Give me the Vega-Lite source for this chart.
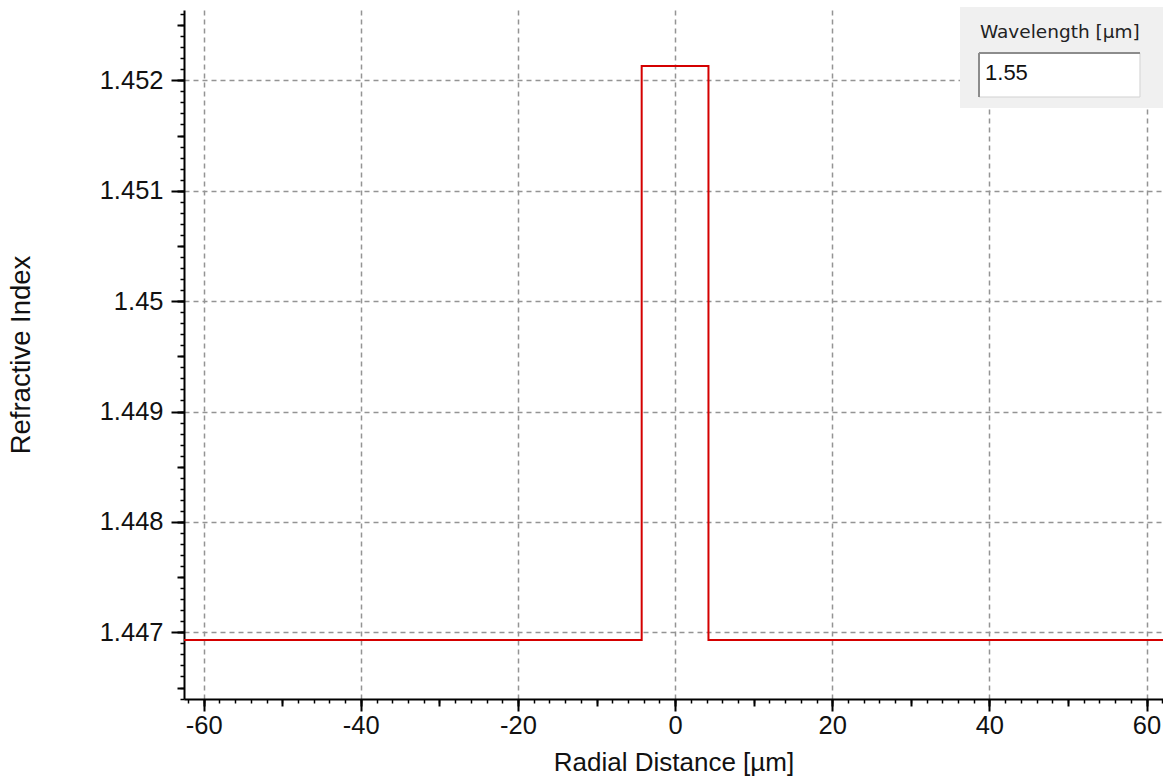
{
  "$schema": "https://vega.github.io/schema/vega-lite/v6.json",
  "width": 979,
  "height": 689,
  "autosize": "none",
  "padding": {"left": 184, "top": 10, "right": 0, "bottom": 81},
  "background": "white",
  "config": {
    "view": {"stroke": null},
    "axis": {
      "labelFont": "Liberation Sans",
      "titleFont": "Liberation Sans",
      "labelColor": "#111111",
      "titleColor": "#111111",
      "tickColor": "#000000",
      "domainColor": "#000000",
      "titleFontWeight": "normal"
    }
  },
  "datasets": {
    "profile": [
      {"i": 0, "r": -62.5, "n": 1.44693},
      {"i": 1, "r": -4.25, "n": 1.44693},
      {"i": 2, "r": -4.25, "n": 1.45213},
      {"i": 3, "r": 4.25, "n": 1.45213},
      {"i": 4, "r": 4.25, "n": 1.44693},
      {"i": 5, "r": 62.1, "n": 1.44693}
    ],
    "panel": [
      {"label": "Wavelength [µm]", "wavelength": "1.55"}
    ]
  },
  "layer": [
    {
      "data": {"name": "profile"},
      "mark": {"type": "line", "opacity": 0},
      "encoding": {
        "x": {
          "field": "r", "type": "quantitative",
          "scale": {"domain": [-62.5, 62.1], "nice": false, "zero": false},
          "axis": {
            "orient": "bottom", "title": null, "labels": false, "domain": false, "grid": false,
            "tickSize": 4, "tickWidth": 1.5,
            "values": [-62,-60,-58,-56,-54,-52,-50,-48,-46,-44,-42,-40,-38,-36,-34,-32,-30,-28,-26,-24,-22,-20,-18,-16,-14,-12,-10,-8,-6,-4,-2,0,2,4,6,8,10,12,14,16,18,20,22,24,26,28,30,32,34,36,38,40,42,44,46,48,50,52,54,56,58,60,62]
          }
        },
        "y": {
          "field": "n", "type": "quantitative",
          "scale": {"domain": [1.446396, 1.452637], "nice": false, "zero": false},
          "axis": {
            "orient": "left", "title": null, "labels": false, "domain": false, "grid": false,
            "tickSize": 4, "tickWidth": 1.5,
            "values": [1.4464,1.4465,1.4466,1.4467,1.4468,1.4469,1.447,1.4471,1.4472,1.4473,1.4474,1.4475,1.4476,1.4477,1.4478,1.4479,1.448,1.4481,1.4482,1.4483,1.4484,1.4485,1.4486,1.4487,1.4488,1.4489,1.449,1.4491,1.4492,1.4493,1.4494,1.4495,1.4496,1.4497,1.4498,1.4499,1.45,1.4501,1.4502,1.4503,1.4504,1.4505,1.4506,1.4507,1.4508,1.4509,1.451,1.4511,1.4512,1.4513,1.4514,1.4515,1.4516,1.4517,1.4518,1.4519,1.452,1.4521,1.4522,1.4523,1.4524,1.4525,1.4526]
          }
        }
      }
    },
    {
      "data": {"name": "profile"},
      "mark": {"type": "line", "opacity": 0},
      "encoding": {
        "x": {
          "field": "r", "type": "quantitative",
          "scale": {"domain": [-62.5, 62.1], "nice": false, "zero": false},
          "axis": {
            "orient": "bottom", "title": null, "labels": false, "domain": false, "grid": false,
            "tickSize": 7, "tickWidth": 2,
            "values": [-60,-50,-40,-30,-20,-10,0,10,20,30,40,50,60]
          }
        },
        "y": {
          "field": "n", "type": "quantitative",
          "scale": {"domain": [1.446396, 1.452637], "nice": false, "zero": false},
          "axis": {
            "orient": "left", "title": null, "labels": false, "domain": false, "grid": false,
            "tickSize": 7, "tickWidth": 2,
            "values": [1.4465,1.447,1.4475,1.448,1.4485,1.449,1.4495,1.45,1.4505,1.451,1.4515,1.452,1.4525]
          }
        }
      }
    },
    {
      "data": {"name": "profile"},
      "mark": {"type": "line", "color": "#d40000", "strokeWidth": 2},
      "encoding": {
        "order": {"field": "i", "type": "quantitative"},
        "x": {
          "field": "r", "type": "quantitative",
          "scale": {"domain": [-62.5, 62.1], "nice": false, "zero": false},
          "axis": {
            "orient": "bottom",
            "title": "Radial Distance [µm]",
            "titleFontSize": 26,
            "titlePadding": 11,
            "values": [-60,-40,-20,0,20,40,60],
            "labelExpr": "'' + datum.value",
            "labelFontSize": 25.5,
            "labelPadding": 2,
            "labelOverlap": false,
            "labelFlush": false,
            "tickSize": 12, "tickWidth": 2,
            "domainWidth": 2,
            "grid": true, "gridColor": "#949494", "gridDash": [5, 4], "gridWidth": 1.5
          }
        },
        "y": {
          "field": "n", "type": "quantitative",
          "scale": {"domain": [1.446396, 1.452637], "nice": false, "zero": false},
          "axis": {
            "orient": "left",
            "title": "Refractive Index",
            "titleFontSize": 27.5,
            "titlePadding": 64,
            "values": [1.447,1.448,1.449,1.45,1.451,1.452],
            "labelExpr": "'' + datum.value",
            "labelFontSize": 25.5,
            "labelPadding": 8,
            "labelOverlap": false,
            "labelFlush": false,
            "tickSize": 13, "tickWidth": 2,
            "domainWidth": 2,
            "grid": true, "gridColor": "#949494", "gridDash": [5, 4], "gridWidth": 1.5
          }
        }
      }
    },
    {
      "data": {"name": "panel"},
      "mark": {"type": "rect", "color": "#f0f0f0"},
      "encoding": {
        "x": {"datum": 36.26, "type": "quantitative", "scale": {"domain": [-62.5, 62.1], "nice": false, "zero": false}, "axis": null},
        "x2": {"datum": 62.1},
        "y": {"datum": 1.452664, "type": "quantitative", "scale": {"domain": [1.446396, 1.452637], "nice": false, "zero": false}, "axis": null},
        "y2": {"datum": 1.451749}
      }
    },
    {
      "data": {"name": "panel"},
      "mark": {"type": "rect", "fill": "#ffffff", "stroke": "#d2d2d2", "strokeWidth": 1},
      "encoding": {
        "x": {"datum": 38.68, "type": "quantitative", "scale": {"domain": [-62.5, 62.1], "nice": false, "zero": false}, "axis": null},
        "x2": {"datum": 59.17},
        "y": {"datum": 1.452247, "type": "quantitative", "scale": {"domain": [1.446396, 1.452637], "nice": false, "zero": false}, "axis": null},
        "y2": {"datum": 1.451849}
      }
    },
    {
      "data": {"name": "panel"},
      "mark": {"type": "rule", "color": "#8c8c8c", "strokeWidth": 2},
      "encoding": {
        "x": {"datum": 38.68, "type": "quantitative", "scale": {"domain": [-62.5, 62.1], "nice": false, "zero": false}, "axis": null},
        "x2": {"datum": 59.17},
        "y": {"datum": 1.452247, "type": "quantitative", "scale": {"domain": [1.446396, 1.452637], "nice": false, "zero": false}, "axis": null}
      }
    },
    {
      "data": {"name": "panel"},
      "mark": {"type": "rule", "color": "#8c8c8c", "strokeWidth": 2},
      "encoding": {
        "x": {"datum": 38.68, "type": "quantitative", "scale": {"domain": [-62.5, 62.1], "nice": false, "zero": false}, "axis": null},
        "y": {"datum": 1.452247, "type": "quantitative", "scale": {"domain": [1.446396, 1.452637], "nice": false, "zero": false}, "axis": null},
        "y2": {"datum": 1.451849}
      }
    },
    {
      "data": {"name": "panel"},
      "mark": {"type": "text", "align": "left", "baseline": "alphabetic", "font": "DejaVu Sans", "fontSize": 18.5, "color": "#222222"},
      "encoding": {
        "x": {"datum": 38.8, "type": "quantitative", "scale": {"domain": [-62.5, 62.1], "nice": false, "zero": false}, "axis": null},
        "y": {"datum": 1.45238, "type": "quantitative", "scale": {"domain": [1.446396, 1.452637], "nice": false, "zero": false}, "axis": null},
        "text": {"field": "label"}
      }
    },
    {
      "data": {"name": "panel"},
      "mark": {"type": "text", "align": "left", "baseline": "alphabetic", "font": "Liberation Sans", "fontSize": 22, "color": "#111111"},
      "encoding": {
        "x": {"datum": 39.45, "type": "quantitative", "scale": {"domain": [-62.5, 62.1], "nice": false, "zero": false}, "axis": null},
        "y": {"datum": 1.452003, "type": "quantitative", "scale": {"domain": [1.446396, 1.452637], "nice": false, "zero": false}, "axis": null},
        "text": {"field": "wavelength"}
      }
    }
  ],
  "resolve": {"axis": {"x": "independent", "y": "independent"}}
}
